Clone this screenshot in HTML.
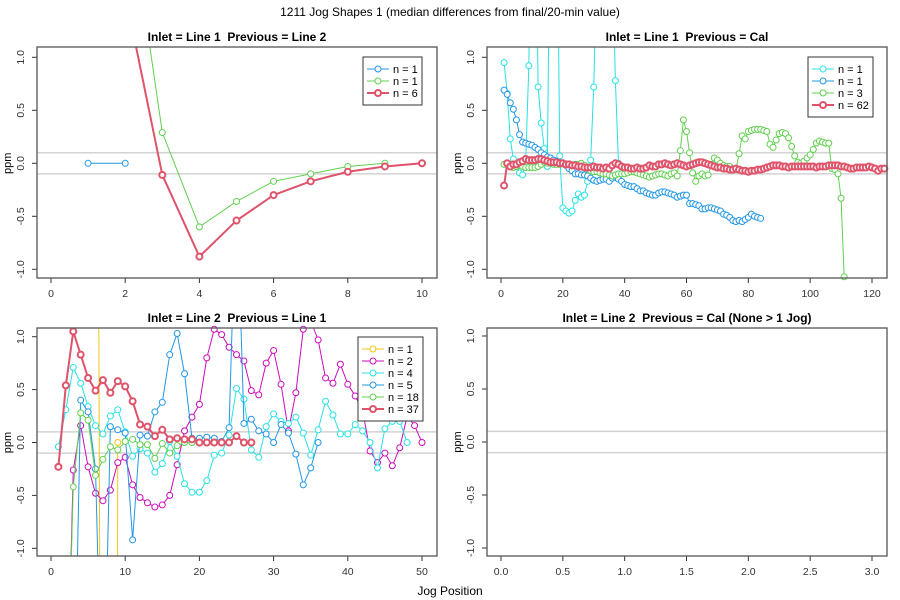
<!DOCTYPE html>
<html><head><meta charset="utf-8"><style>
html,body{margin:0;padding:0;background:#fff;width:900px;height:600px;overflow:hidden}
svg{display:block;font-family:"Liberation Sans",sans-serif}
</style></head><body>
<svg id="c" width="900" height="600" viewBox="0 0 900 600">
<text x="450" y="595" text-anchor="middle" font-size="12">Jog Position</text>
<text x="450" y="16" text-anchor="middle" font-size="12">1211 Jog Shapes 1 (median differences from final/20-min value)</text>
</svg>
<script>
const RED="#DF536B",GRN="#61D04F",BLU="#2297E6",CYN="#28E2E5",MAG="#CD0BBC",YEL="#F5C710";
// Panel 1 data
const p1BlueX=[1,2], p1BlueY=[0,0];
const p1GreenX=[2,3,4,5,6,7,8,9], p1GreenY=[2.7,0.29,-0.6,-0.36,-0.17,-0.1,-0.03,0];
const p1RedX=[2,3,4,5,6,7,8,9,10], p1RedY=[1.6,-0.11,-0.88,-0.54,-0.3,-0.17,-0.08,-0.03,0];
// Panel 2 data (x = 1..n)
const p2Cyan=[0.95,0.66,0.23,0.04,-0.03,-0.09,-0.11,0.03,0.92,3,3,0.72,0.38,0.14,-0.03,3,3,3,0.07,-0.42,-0.45,-0.47,-0.45,-0.35,-0.29,-0.32,-0.3,-0.17,0.03,0.72,2,2,2,2,2,2,0.78,0];
const p2Blue=[0.69,0.65,0.57,0.51,0.41,0.27,0.2,0.19,0.18,0.17,0.15,0.13,0.1,0.08,0.06,0.05,0.03,0.02,0.01,0,-0.02,-0.05,-0.07,-0.1,-0.1,-0.11,-0.11,-0.12,-0.14,-0.16,-0.17,-0.16,-0.15,-0.15,-0.17,-0.14,-0.13,-0.15,-0.17,-0.2,-0.21,-0.22,-0.22,-0.24,-0.26,-0.26,-0.28,-0.29,-0.3,-0.3,-0.28,-0.27,-0.27,-0.28,-0.29,-0.3,-0.32,-0.31,-0.3,-0.3,-0.38,-0.38,-0.39,-0.4,-0.43,-0.43,-0.42,-0.42,-0.43,-0.44,-0.45,-0.48,-0.49,-0.51,-0.54,-0.55,-0.54,-0.55,-0.53,-0.51,-0.48,-0.5,-0.51,-0.52];
const p2Green=[-0.01,-0.01,-0.02,-0.04,-0.03,-0.02,-0.03,-0.04,-0.04,-0.04,-0.04,-0.03,-0.01,0.01,0,0,-0.01,-0.01,-0.01,0,-0.01,-0.01,-0.02,-0.01,-0.01,0,-0.02,-0.05,-0.07,-0.08,-0.08,-0.09,-0.1,-0.1,-0.11,-0.12,-0.11,-0.1,-0.1,-0.1,-0.09,-0.08,-0.08,-0.09,-0.1,-0.11,-0.12,-0.13,-0.12,-0.11,-0.1,-0.1,-0.11,-0.12,-0.1,-0.09,-0.12,0.12,0.41,0.3,0.1,-0.09,-0.17,-0.12,-0.1,-0.12,-0.11,-0.01,0.05,0.03,0,-0.02,-0.03,-0.03,-0.05,-0.06,0.09,0.26,0.23,0.3,0.31,0.32,0.32,0.32,0.31,0.3,0.18,0.15,0.22,0.28,0.29,0.28,0.24,0.16,0.07,0.01,0,0.02,0.05,0.08,0.13,0.19,0.21,0.2,0.19,0.19,-0.05,-0.06,-0.1,-0.33,-1.07,-1.5];
const p2Red=[-0.21,0,-0.03,-0.01,-0.01,0.01,0.02,0.04,0.03,0.03,0.03,0.04,0.04,0.03,0.02,0.01,0.01,0.01,0,0,-0.01,-0.01,-0.02,-0.02,-0.03,-0.03,-0.04,-0.04,-0.04,-0.03,-0.04,-0.04,-0.05,-0.04,-0.05,-0.02,0,-0.01,-0.03,-0.04,-0.04,-0.05,-0.05,-0.04,-0.05,-0.05,-0.04,-0.02,-0.03,-0.03,-0.01,-0.01,0,-0.01,-0.02,-0.01,0,-0.01,-0.02,-0.03,-0.02,-0.01,0,0.01,0.01,0,-0.01,-0.02,-0.03,-0.04,-0.04,-0.05,-0.05,-0.06,-0.06,-0.05,-0.06,-0.07,-0.07,-0.08,-0.07,-0.07,-0.06,-0.06,-0.05,-0.04,-0.03,-0.02,-0.02,-0.02,-0.03,-0.03,-0.04,-0.03,-0.03,-0.03,-0.03,-0.03,-0.03,-0.03,-0.03,-0.04,-0.03,-0.03,-0.03,-0.02,-0.02,-0.02,-0.02,-0.03,-0.03,-0.04,-0.05,-0.05,-0.04,-0.04,-0.04,-0.04,-0.03,-0.04,-0.05,-0.07,-0.05,-0.05];
// Panel 3 data
const p3YelX=[6,7,8,9], p3YelY=[10,-10,-30,0];
const p3MagX=[2,3,4,5,6,7,8,9,10,11,12,13,14,15,16,17,18,19,20,21,22,23,24,25,26,27,28,29,30,31,32,33,34,35,36,37,38,39,40,41,42,43,44,45,46,47,48,49,50];
const p3MagY=[-3,-0.26,0.16,-0.23,-0.48,-0.55,-0.45,-0.19,-0.14,-0.4,-0.52,-0.57,-0.61,-0.59,-0.5,-0.21,0.11,0.24,0.36,0.8,1.07,1.02,0.9,0.83,0.77,0.49,0.45,0.75,0.87,0.55,0.11,0.47,1.07,1.15,0.97,0.61,0.56,0.74,0.55,0.44,0.3,-0.08,-0.19,-0.1,-0.22,-0.05,0.25,0.16,0];
const p3Cyan=[-0.04,0.31,0.71,0.56,0.34,0.16,0.08,0.25,0.31,0.1,-0.13,-0.06,-0.1,-0.28,-0.2,0.01,-0.13,-0.39,-0.47,-0.47,-0.36,-0.12,-0.1,0.07,0.51,0.41,-0.07,-0.14,0.15,0.27,0.2,0.18,0.24,0.09,-0.12,0.12,0.39,0.26,0.08,0.08,0.17,0.11,0,-0.24,0.13,0.2,0.2,0];
const p3BlueX=[3,4,5,6,7,8,9,10,11,12,13,14,15,16,17,18,19,20,21,22,23,24,25,26,27,28,29,30,31,32,33,34,35,36];
const p3BlueY=[-3,0.4,0.29,-0.25,-3,0.15,0.12,0.09,-0.92,0.07,0.06,0.29,0.38,0.83,1.03,0.65,0.04,0.04,0.05,0.04,0.01,0.14,2.5,0.18,0.22,0.11,0.08,0,0.17,0.09,-0.11,-0.4,-0.24,0];
const p3GreenX=[2,3,4,5,6,7,8,9,10,11,12,13,14,15,16,17,18,19];
const p3GreenY=[-3,-0.42,0.28,0.21,-0.31,-0.16,-0.04,-0.07,0.01,0.03,-0.02,-0.02,-0.15,-0.01,-0.1,-0.03,0,0];
const p3Red=[-0.23,0.54,1.05,0.83,0.61,0.49,0.59,0.47,0.58,0.53,0.39,0.17,0.15,0.06,0.12,0.03,0.04,0.03,0.03,0,0,0,0,0,0.06,0,0];
const yTicks=["-1.0","-0.5","0.0","0.5","1.0"];
const p1XTicks=[0,2,4,6,8,10], p2XTicks=[0,20,40,60,80,100,120], p3XTicks=[0,10,20,30,40,50], p4XTicks=["0.0","0.5","1.0","1.5","2.0","2.5","3.0"];

const NS="http://www.w3.org/2000/svg", svg=document.getElementById('c');
function mk(tag,attrs,parent){const e=document.createElementNS(NS,tag);for(const k in attrs)e.setAttribute(k,attrs[k]);(parent||svg).appendChild(e);return e;}
function seq(n){const a=[];for(let i=1;i<=n;i++)a.push(i);return a;}
const SP="\u00A0";
// Liang-Barsky segment clip
function clipSeg(x0,y0,x1,y1,b){
  let t0=0,t1=1;const dx=x1-x0,dy=y1-y0;
  const P=[-dx,dx,-dy,dy],Q=[x0-b.l,b.r-x0,y0-b.t,b.b-y0];
  for(let i=0;i<4;i++){if(P[i]===0){if(Q[i]<0)return null;}else{const r=Q[i]/P[i];if(P[i]<0){if(r>t1)return null;if(r>t0)t0=r;}else{if(r<t0)return null;if(r<t1)t1=r;}}}
  return [x0+t0*dx,y0+t0*dy,x0+t1*dx,y0+t1*dy];
}

function panel(id,o){
  const g=mk('g',{});
  
  
  const sx=v=>o.x0+(v-o.xmin)*(o.x1-o.x0)/(o.xmax-o.xmin);
  const sy=v=>o.yz-v*o.yu;
  const box={l:o.bl,r:o.br,t:o.bt,b:o.bb};
  const t=mk('text',{x:(o.bl+o.br)/2,y:o.bt-6,'text-anchor':'middle','font-size':12,'font-weight':'bold'},g);t.textContent=o.title.replace('  ',' '+SP);
  
  
  yTicks.forEach(s=>{const v=parseFloat(s),y=sy(v);mk('line',{x1:o.bl-5,x2:o.bl,y1:y,y2:y,stroke:'#333'},g);
    const tx=mk('text',{x:0,y:0,'font-size':10.5,'text-anchor':'middle',fill:'#333',transform:`translate(${o.bl-13},${y}) rotate(-90)`},g);tx.textContent=s;});
  mk('line',{x1:o.bl,x2:o.bl,y1:sy(1),y2:sy(-1),stroke:'#333'},g);
  const yl=mk('text',{'font-size':11,'text-anchor':'middle',transform:`translate(${o.bl-26},${sy(0)}) rotate(-90)`},g);yl.textContent='ppm';
  
  
  o.xt.forEach(s=>{const v=parseFloat(s),x=sx(v);mk('line',{x1:x,x2:x,y1:o.bb,y2:o.bb+5,stroke:'#333'},g);
    const tx=mk('text',{x:x,y:o.bb+19,'font-size':10.5,'text-anchor':'middle',fill:'#333'},g);tx.textContent=s;});
  [0.1,-0.1].forEach(v=>mk('line',{x1:o.bl,x2:o.br,y1:sy(v),y2:sy(v),stroke:'#d3d3d3','stroke-width':1.5},g));
  (o.series||[]).forEach(s=>{
    const sg=mk('g',{},g);
    
    
    const pts=s.x.map((xv,i)=>[sx(xv),sy(s.y[i])]);
    let d='';
    for(let i=0;i<pts.length-1;i++){const c=clipSeg(pts[i][0],pts[i][1],pts[i+1][0],pts[i+1][1],box);
      if(c)d+=`M${c[0].toFixed(2)},${c[1].toFixed(2)}L${c[2].toFixed(2)},${c[3].toFixed(2)}`;}
    if(d)mk('path',{d:d,fill:'none',stroke:s.c,'stroke-width':s.w},sg);
    pts.forEach(p=>{if(p[0]>=o.bl&&p[0]<=o.br&&p[1]>=o.bt&&p[1]<=o.bb)mk('circle',{cx:p[0],cy:p[1],r:3,fill:'#fff',stroke:s.c,'stroke-width':s.w},sg);});
  });
  mk('rect',{x:o.bl,y:o.bt,width:o.br-o.bl,height:o.bb-o.bt,fill:'none',stroke:'#555','stroke-width':1.3},g);
  if(o.legend){const L=o.legend;const lg=mk('g',{},g);
    
    
    mk('rect',{x:L.x,y:L.y,width:L.w,height:L.items.length*12+12,fill:'#fff',stroke:'#333'},lg);
    L.items.forEach((it,i)=>{const y=L.y+12+i*12;
      mk('line',{x1:L.x+4,x2:L.x+26,y1:y,y2:y,stroke:it.c,'stroke-width':it.w},lg);
      mk('circle',{cx:L.x+15,cy:y,r:3,fill:'#fff',stroke:it.c,'stroke-width':it.w},lg);
      const tx=mk('text',{x:L.x+30,y:y+4,'font-size':11},lg);tx.textContent=it.t;
      
      });
  }
}
panel('p1',{title:'Inlet = Line 1  Previous = Line 2',bl:37,br:437,bt:47,bb:278,x0:51,x1:422,xmin:0,xmax:10,yz:163.3,yu:106,xt:p1XTicks,
  series:[{name:'blue',x:p1BlueX,y:p1BlueY,c:BLU,w:1},{name:'green',x:p1GreenX,y:p1GreenY,c:GRN,w:1},{name:'red',x:p1RedX,y:p1RedY,c:RED,w:2}],
  legend:{x:363,y:57,w:59,items:[{c:BLU,w:1,t:'n = 1'},{c:GRN,w:1,t:'n = 1'},{c:RED,w:2,t:'n = 6'}]}});
panel('p2',{title:'Inlet = Line 1  Previous = Cal',bl:487,br:887,bt:47,bb:278,x0:501,x1:872,xmin:0,xmax:120,yz:163.3,yu:106,xt:p2XTicks,
  series:[{name:'cyan',x:seq(p2Cyan.length),y:p2Cyan,c:CYN,w:1},{name:'blue',x:seq(p2Blue.length),y:p2Blue,c:BLU,w:1},{name:'green',x:seq(p2Green.length),y:p2Green,c:GRN,w:1},{name:'red',x:seq(p2Red.length),y:p2Red,c:RED,w:2}],
  legend:{x:808,y:57,w:65,items:[{c:CYN,w:1,t:'n = 1'},{c:BLU,w:1,t:'n = 1'},{c:GRN,w:1,t:'n = 3'},{c:RED,w:2,t:'n = 62'}]}});
panel('p3',{title:'Inlet = Line 2  Previous = Line 1',bl:37,br:437,bt:328,bb:556,x0:51,x1:422,xmin:0,xmax:50,yz:442.5,yu:105.8,xt:p3XTicks,
  series:[{name:'yellow',x:p3YelX,y:p3YelY,c:YEL,w:1},{name:'magenta',x:p3MagX,y:p3MagY,c:MAG,w:1},{name:'cyan',x:seq(p3Cyan.length),y:p3Cyan,c:CYN,w:1},{name:'blue',x:p3BlueX,y:p3BlueY,c:BLU,w:1},{name:'green',x:p3GreenX,y:p3GreenY,c:GRN,w:1},{name:'red',x:seq(p3Red.length),y:p3Red,c:RED,w:2}],
  legend:{x:358,y:337,w:65,items:[{c:YEL,w:1,t:'n = 1'},{c:MAG,w:1,t:'n = 2'},{c:CYN,w:1,t:'n = 4'},{c:BLU,w:1,t:'n = 5'},{c:GRN,w:1,t:'n = 18'},{c:RED,w:2,t:'n = 37'}]}});
panel('p4',{title:'Inlet = Line 2  Previous = Cal (None > 1 Jog)',bl:487,br:887,bt:328,bb:556,x0:501,x1:872,xmin:0,xmax:3,yz:442,yu:106,xt:p4XTicks,series:[]});
</script>
</body></html>
